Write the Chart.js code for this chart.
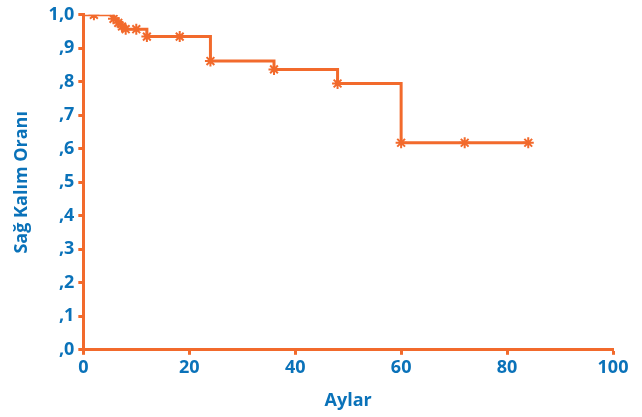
<!DOCTYPE html>
<html>
<head>
<meta charset="utf-8">
<script src="https://cdn.jsdelivr.net/npm/chart.js@4"></script>
<style>
	html, body { margin: 0; padding: 0; background: #fff; }
	#wrap { width: 642px; height: 417px; position: relative; }
</style>
</head>
<body>
<div id="wrap"><canvas id="km"></canvas></div>
<script>
// Kaplan-Meier egrisi
const stepMonths = [0, 5.7, 6.6, 7.3, 8, 12, 24, 36, 48, 60, 84];
const stepSurvival = [1.0, 0.988, 0.976, 0.965, 0.957, 0.935, 0.862, 0.837, 0.795, 0.618, 0.618];

// sansurlu gozlemler (yildizlar)
const censorMonths = [2, 5.7, 6.6, 7.3, 8, 10, 12, 18.2, 24, 36, 48, 60, 72, 84];
const censorSurvival = [1.0, 0.988, 0.976, 0.965, 0.957, 0.957, 0.935, 0.935, 0.862, 0.837, 0.795, 0.618, 0.618, 0.618];

const yTickLabels = [',0', ',1', ',2', ',3', ',4', ',5', ',6', ',7', ',8', ',9', '1,0'];

const orange = '#F26A2C';
const blue = '#0A72B9';
const font = { family: "'Open Sans', 'Noto Sans', sans-serif", weight: 'bold', size: 18 };

const ctx = document.querySelector('#km').getContext('2d');

const kmChart = new Chart(ctx, {
	type: 'scatter',
	data: {
		datasets: [{
			type: 'line',
			data: stepMonths.map((m, i) => ({ x: m, y: stepSurvival[i] })),
			borderColor: orange,
			borderWidth: 3,
			stepped: true,
			pointRadius: 0,
			fill: false
		}, {
			data: censorMonths.map((m, i) => ({ x: m, y: censorSurvival[i] })),
			pointStyle: 'star',
			pointRadius: 5.5,
			borderColor: orange,
			borderWidth: 2,
			backgroundColor: orange
		}]
	},
	options: {
		responsive: true,
		maintainAspectRatio: false,
		animation: false,
		layout: { padding: { left: 11, right: 29, top: 3, bottom: 5 } },
		plugins: {
			legend: { display: false },
			tooltip: { enabled: false }
		},
		scales: {
			x: {
				min: 0,
				max: 100,
				border: { display: true, color: orange, width: 3 },
				grid: { drawOnChartArea: false, drawTicks: true, tickLength: 5, tickColor: orange, tickWidth: 3 },
				ticks: { stepSize: 20, color: blue, font: font, padding: 2 },
				title: { display: true, text: 'Aylar', color: blue, font: font, padding: { top: 10, bottom: 0 } }
			},
			y: {
				min: 0,
				max: 1,
				border: { display: true, color: orange, width: 3 },
				grid: { drawOnChartArea: false, drawTicks: true, tickLength: 5, tickColor: orange, tickWidth: 3 },
				ticks: {
					stepSize: 0.1,
					color: blue,
					font: font,
					padding: 4,
					callback: (v) => yTickLabels[Math.round(v * 10)]
				},
				title: { display: true, text: 'Sağ Kalım Oranı', color: blue, font: font, padding: { top: 0, bottom: 12 } }
			}
		}
	}
});
</script>
</body>
</html>
